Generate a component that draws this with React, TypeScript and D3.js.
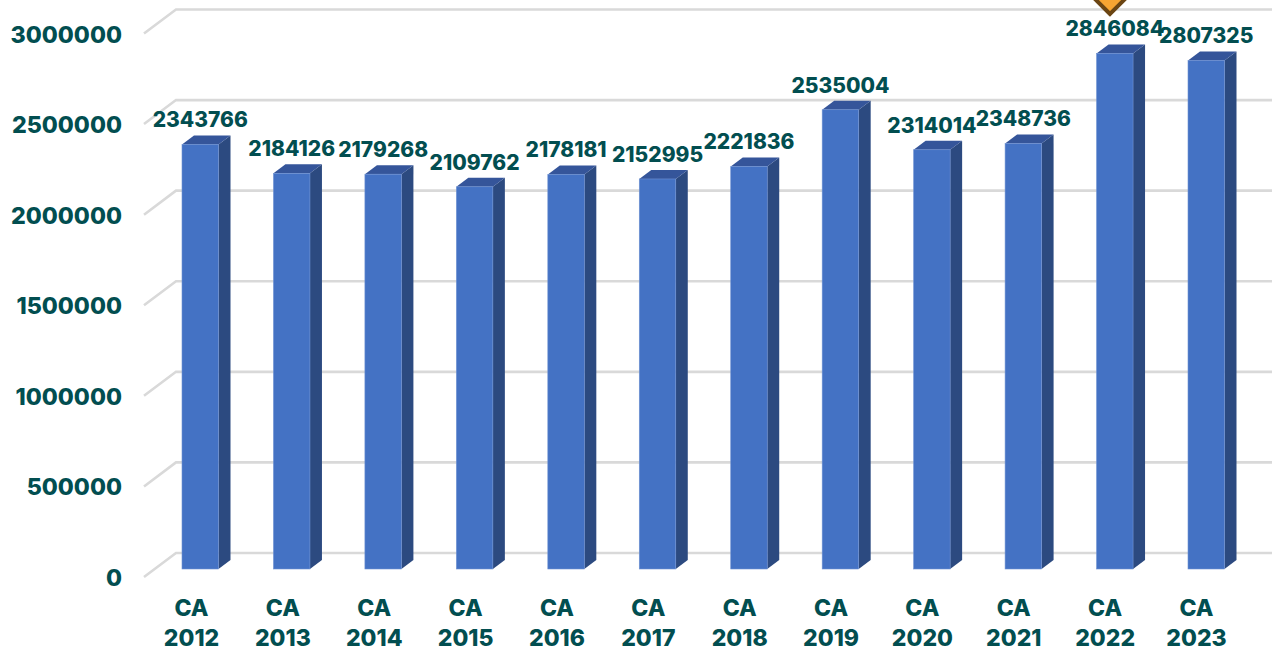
import React from "react";
import * as d3 from "d3";

const categories = ["2012","2013","2014","2015","2016","2017","2018","2019","2020","2021","2022","2023"];
const values = [2343766,2184126,2179268,2109762,2178181,2152995,2221836,2535004,2314014,2348736,2846084,2807325];
const yTicks = [0,500000,1000000,1500000,2000000,2500000,3000000];
const font = "Inter, 'Open Sans', sans-serif";
const ink = "#024e50";
const W = 1272, H = 648;
const dx = 12, dy = -9;      // bar depth
const wallDx = 32, wallDy = -24; // wall depth
const bw = 36.5;

const y = d3.scaleLinear().domain([0, 3000000]).range([569, 25.5]);
const x = d3.scalePoint<string>().domain(categories).range([200.25, 1206.25]);
const xLabel = d3.scalePoint<string>().domain(categories).range([191.5, 1196.5]);

export default function App() {
  return (
    <svg width={W} height={H} viewBox={`0 0 ${W} ${H}`} style={{ position: "absolute", left: 0, top: 0, background: "#fff" }}>
      {yTicks.map((t) => {
        const yy = y(t) + 8;
        return (
          <g key={t}>
            <path d={`M144 ${yy} L${144 + wallDx} ${yy + wallDy} H${W}`} fill="none" stroke="#d9d9d9" strokeWidth={2.6} />
            <text x={122} y={yy + 9} textAnchor="end" fontFamily={font} fontWeight={800} fontSize={23.2} fill={ink}>{t}</text>
          </g>
        );
      })}
      {categories.map((c, i) => {
        const cx = x(c)!;
        const x0 = cx - bw / 2;
        const v = values[i];
        const top = y(v), base = y(0);
        const lx = xLabel(c)!;
        return (
          <g key={c}>
            <path d={`M${x0 + bw} ${top} l${dx} ${dy} V${base + dy} l${-dx} ${-dy} Z`} fill="#2c4a80" />
            <path d={`M${x0} ${top} l${dx} ${dy} h${bw} l${-dx} ${-dy} Z`} fill="#35559a" />
            <rect x={x0} y={top} width={bw} height={base - top} fill="#4472c4" stroke="#6f92d2" strokeWidth={0.6} />
            <text x={cx} y={top - 17} textAnchor="middle" fontFamily={font} fontWeight={800} fontSize={21} fill={ink}>{v}</text>
            <text textAnchor="middle" fontFamily={font} fontWeight={800} fontSize={23} fill={ink}>
              <tspan x={lx} y={616}>CA</tspan>
              <tspan x={lx} y={645.5}>{c}</tspan>
            </text>
          </g>
        );
      })}
      <path d="M1110 14 L1092 -4 L1128 -4 Z" fill="#f6a432" stroke="#6b4513" strokeWidth={4} />
    </svg>
  );
}
